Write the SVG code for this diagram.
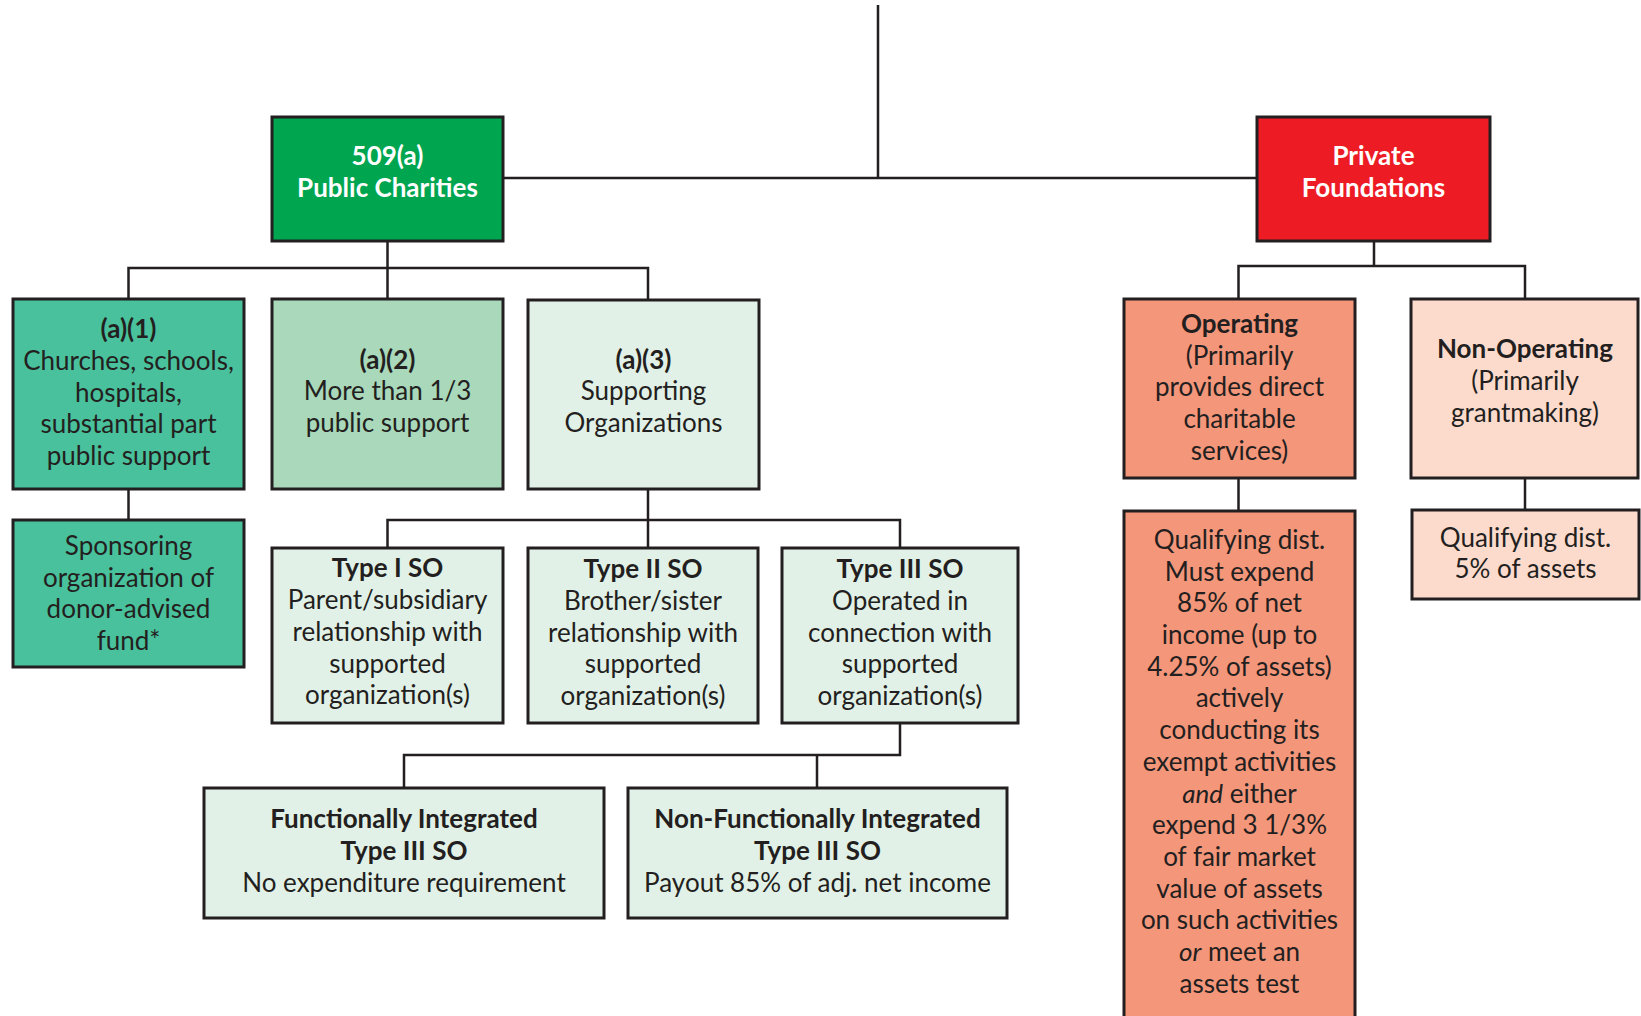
<svg xmlns="http://www.w3.org/2000/svg" width="1641" height="1016" viewBox="0 0 1641 1016">
<style>
.box{stroke:#231f20;stroke-width:3}
.t{font-family:Lato,"Liberation Sans",sans-serif;font-size:26px;fill:#231f20;text-anchor:middle}
.w{fill:#ffffff}
.b{font-weight:bold}
.i{font-style:italic}
.c{fill:none;stroke:#231f20;stroke-width:2.5}
</style>
<rect width="1641" height="1016" fill="#ffffff"/>
<g id="connectors" class="c">
<path d="M878,5 V178 M503,178 H1257"/>
<path d="M387.5,241 V299 M128.5,299 V268 H648 V300"/>
<path d="M128.5,489 V520"/>
<path d="M648,489 V548 M387.5,548 V520 H900 V548"/>
<path d="M900,723 V755 H404 V788 M817,755 V788"/>
<path d="M1374,241 V266 M1238.5,299 V266 H1525 V299"/>
<path d="M1238.5,478 V511 M1525,478 V510"/>
</g>
<g id="n509a">
<rect class="box" x="272" y="117" width="231" height="124" fill="#00a550"/>
<text class="t w b"><tspan x="387.5" y="165">509(a)</tspan><tspan x="387.5" y="197">Public Charities</tspan></text>
</g>
<g id="private">
<rect class="box" x="1257" y="117" width="233" height="124" fill="#ed1c24"/>
<text class="t w b"><tspan x="1373.5" y="165">Private</tspan><tspan x="1373.5" y="197">Foundations</tspan></text>
</g>
<g id="a1">
<rect class="box" x="13" y="299" width="231" height="190" fill="#49c19c"/>
<text class="t"><tspan class="b" x="128.5" y="338">(a)(1)</tspan><tspan x="128.5" y="370">Churches, schools,</tspan><tspan x="128.5" y="402">hospitals,</tspan><tspan x="128.5" y="433">substantial part</tspan><tspan x="128.5" y="465">public support</tspan></text>
</g>
<g id="a2">
<rect class="box" x="272" y="299" width="231" height="190" fill="#a9d8ba"/>
<text class="t"><tspan class="b" x="387.5" y="369">(a)(2)</tspan><tspan x="387.5" y="400">More than 1/3</tspan><tspan x="387.5" y="432">public support</tspan></text>
</g>
<g id="a3">
<rect class="box" x="528" y="300" width="231" height="189" fill="#e2f1e7"/>
<text class="t"><tspan class="b" x="643.5" y="369">(a)(3)</tspan><tspan x="643.5" y="400">Supporting</tspan><tspan x="643.5" y="432">Organizations</tspan></text>
</g>
<g id="sponsoring">
<rect class="box" x="13" y="520" width="231" height="147" fill="#49c19c"/>
<text class="t"><tspan x="128.5" y="555">Sponsoring</tspan><tspan x="128.5" y="587">organization of</tspan><tspan x="128.5" y="618">donor-advised</tspan><tspan x="128.5" y="650">fund*</tspan></text>
</g>
<g id="type1">
<rect class="box" x="272" y="548" width="231" height="175" fill="#e2f1e7"/>
<text class="t"><tspan class="b" x="387.5" y="577">Type I SO</tspan><tspan x="387.5" y="609">Parent/subsidiary</tspan><tspan x="387.5" y="641">relationship with</tspan><tspan x="387.5" y="673">supported</tspan><tspan x="387.5" y="704">organization(s)</tspan></text>
</g>
<g id="type2">
<rect class="box" x="528" y="548" width="230" height="175" fill="#e2f1e7"/>
<text class="t"><tspan class="b" x="643" y="578">Type II SO</tspan><tspan x="643" y="610">Brother/sister</tspan><tspan x="643" y="642">relationship with</tspan><tspan x="643" y="673">supported</tspan><tspan x="643" y="705">organization(s)</tspan></text>
</g>
<g id="type3">
<rect class="box" x="782" y="548" width="236" height="175" fill="#e2f1e7"/>
<text class="t"><tspan class="b" x="900" y="578">Type III SO</tspan><tspan x="900" y="610">Operated in</tspan><tspan x="900" y="642">connection with</tspan><tspan x="900" y="673">supported</tspan><tspan x="900" y="705">organization(s)</tspan></text>
</g>
<g id="functional">
<rect class="box" x="204" y="788" width="400" height="130" fill="#e2f1e7"/>
<text class="t"><tspan class="b" x="404" y="828">Functionally Integrated</tspan><tspan class="b" x="404" y="860">Type III SO</tspan><tspan x="404" y="892">No expenditure requirement</tspan></text>
</g>
<g id="nonfunctional">
<rect class="box" x="628" y="788" width="379" height="130" fill="#e2f1e7"/>
<text class="t"><tspan class="b" x="817.5" y="828">Non-Functionally Integrated</tspan><tspan class="b" x="817.5" y="860">Type III SO</tspan><tspan x="817.5" y="892">Payout 85% of adj. net income</tspan></text>
</g>
<g id="operating">
<rect class="box" x="1124" y="299" width="231" height="179" fill="#f4967a"/>
<text class="t"><tspan class="b" x="1239.5" y="333">Operating</tspan><tspan x="1239.5" y="365">(Primarily</tspan><tspan x="1239.5" y="396">provides direct</tspan><tspan x="1239.5" y="428">charitable</tspan><tspan x="1239.5" y="460">services)</tspan></text>
</g>
<g id="nonoperating">
<rect class="box" x="1411" y="299" width="227" height="179" fill="#fcdbcd"/>
<text class="t"><tspan class="b" x="1525" y="358">Non-Operating</tspan><tspan x="1525" y="390">(Primarily</tspan><tspan x="1525" y="422">grantmaking)</tspan></text>
</g>
<g id="opqual">
<rect class="box" x="1124" y="511" width="231" height="520" fill="#f4967a"/>
<text class="t"><tspan x="1239.5" y="549">Qualifying dist.</tspan><tspan x="1239.5" y="581">Must expend</tspan><tspan x="1239.5" y="612">85% of net</tspan><tspan x="1239.5" y="644">income (up to</tspan><tspan x="1239.5" y="676">4.25% of assets)</tspan><tspan x="1239.5" y="707">actively</tspan><tspan x="1239.5" y="739">conducting its</tspan><tspan x="1239.5" y="771">exempt activities</tspan><tspan x="1239.5" y="803"><tspan class="i">and</tspan> either</tspan><tspan x="1239.5" y="834">expend 3 1/3%</tspan><tspan x="1239.5" y="866">of fair market</tspan><tspan x="1239.5" y="898">value of assets</tspan><tspan x="1239.5" y="929">on such activities</tspan><tspan x="1239.5" y="961"><tspan class="i">or</tspan> meet an</tspan><tspan x="1239.5" y="993">assets test</tspan></text>
</g>
<g id="nonopqual">
<rect class="box" x="1412" y="510" width="227" height="89" fill="#fcdbcd"/>
<text class="t"><tspan x="1525.5" y="547">Qualifying dist.</tspan><tspan x="1525.5" y="578">5% of assets</tspan></text>
</g>
</svg>
